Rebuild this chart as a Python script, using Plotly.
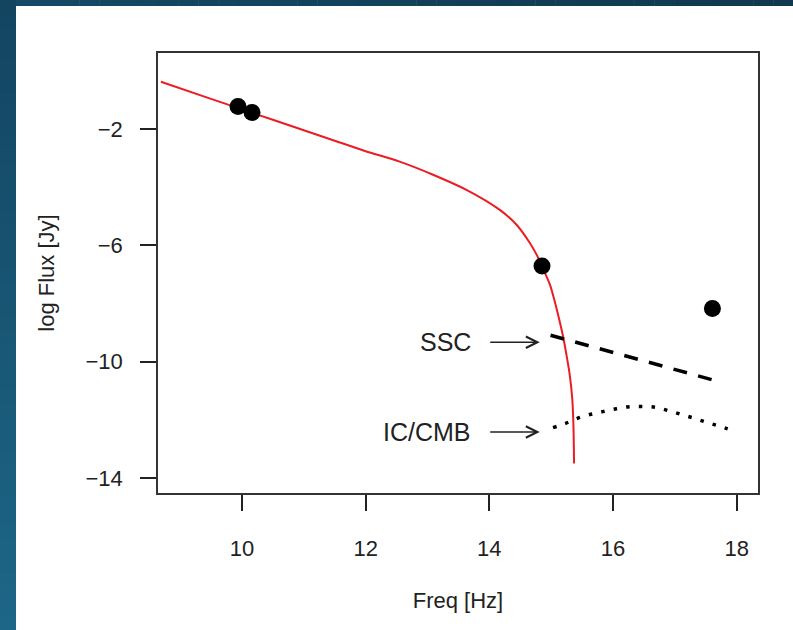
import plotly.graph_objects as go

# Observed fluxes (log Hz, log Jy)
obs_freq = [9.937, 10.163, 14.852, 17.607]
obs_flux = [-1.22, -1.43, -6.71, -8.17]

# Synchrotron model curve
sync_freq = [8.69, 9.5, 10.0, 10.5, 11.0, 11.5, 12.0, 12.55, 13.09, 13.63,
             14.17, 14.44, 14.65, 14.76, 14.85, 14.98, 15.06, 15.13, 15.19,
             15.25, 15.30, 15.34, 15.36, 15.37]
sync_flux = [-0.37, -0.96, -1.32, -1.68, -2.04, -2.40, -2.76, -3.12, -3.57, -4.09,
             -4.78, -5.29, -5.90, -6.30, -6.71, -7.35, -7.95, -8.55, -9.11,
             -9.80, -10.45, -11.25, -12.2, -13.5]

# Synchrotron self-Compton component
ssc_freq = [14.99, 17.67]
ssc_flux = [-9.09, -10.66]

# Inverse Compton on the CMB component
ic_freq = [15.03, 15.235, 15.434, 15.64, 15.85, 16.055, 16.26, 16.475, 16.685,
           16.89, 17.094, 17.30, 17.504, 17.709, 17.93]
ic_flux = [-12.27, -12.12, -11.94, -11.81, -11.71, -11.62, -11.55, -11.54, -11.57,
           -11.68, -11.81, -11.94, -12.08, -12.21, -12.37]

x_ticks = [10, 12, 14, 16, 18]
y_ticks = [-2, -6, -10, -14]
x_range = [8.643, 18.344]
y_range = [-14.517, 0.618]

# Component labels with their arrows: (label, tail x, head x, y)
components = [("SSC", 13.99, 14.815, -9.33), ("IC/CMB", 13.99, 14.815, -12.42)]

W, H = 793, 630
ML, MR, MT, MB = 158, 35, 53, 137
PW, PH = W - ML - MR, H - MT - MB
FONT = "Liberation Sans, Arial, Helvetica, sans-serif"
TEXT = "#222"


def px_x(p):
    return (p - ML) / PW


def px_y(p):
    return 1 - (p - MT) / PH


def mix(c1, c2, t):
    return "rgb(%d,%d,%d)" % tuple(round(a + (b - a) * t) for a, b in zip(c1, c2))


fig = go.Figure()

fig.add_trace(go.Scatter(x=sync_freq, y=sync_flux, mode="lines", line_shape="spline",
                         line=dict(color="#ec1c24", width=2, smoothing=0.8),
                         hoverinfo="skip"))
fig.add_trace(go.Scatter(x=ssc_freq, y=ssc_flux, mode="lines",
                         line=dict(color="black", width=3.5, dash="14px,11.5px"),
                         hoverinfo="skip"))
fig.add_trace(go.Scatter(x=ic_freq, y=ic_flux, mode="lines", line_shape="spline",
                         line=dict(color="black", width=3.5, dash="3.5px,9.2px"),
                         hoverinfo="skip"))
fig.add_trace(go.Scatter(x=obs_freq, y=obs_flux, mode="markers",
                         marker=dict(color="black", size=17, line=dict(width=0)),
                         hoverinfo="skip"))

# Slide frame: blue bands along the top and left edges
shapes = []
top_l, top_r = (20, 74, 102), (16, 56, 78)
n = 40
for i in range(n):
    x0 = W * i / n
    x1 = W * (i + 1) / n + 0.5
    shapes.append(dict(type="rect", xref="paper", yref="paper", layer="below",
                       x0=px_x(x0), x1=px_x(x1), y0=px_y(6), y1=px_y(0),
                       fillcolor=mix(top_l, top_r, i / (n - 1)), line_width=0))
side_t, side_b = (19, 69, 97), (29, 102, 135)
n = 42
for i in range(n):
    y0 = H * i / n
    y1 = H * (i + 1) / n + 0.5
    shapes.append(dict(type="rect", xref="paper", yref="paper", layer="below",
                       x0=px_x(0), x1=px_x(16), y0=px_y(y1), y1=px_y(y0),
                       fillcolor=mix(side_t, side_b, i / (n - 1)), line_width=0))

annotations = []
for label, tail, head, yv in components:
    annotations.append(dict(x=head, y=yv, ax=tail, ay=yv, xref="x", yref="y",
                            axref="x", ayref="y", text="", showarrow=True,
                            arrowhead=5, arrowsize=1.4, arrowwidth=1.6,
                            arrowcolor=TEXT))
    annotations.append(dict(x=tail - 0.26, y=yv, xref="x", yref="y", text=label,
                            showarrow=False, xanchor="right", yanchor="middle",
                            font=dict(family=FONT, size=25, color=TEXT)))

axis_common = dict(showgrid=False, zeroline=False, showline=True, mirror=True,
                   linecolor="#333", linewidth=1.6, ticks="outside", ticklen=16,
                   tickwidth=1.6, tickcolor=TEXT,
                   tickfont=dict(family=FONT, size=22, color=TEXT))

fig.update_layout(
    width=W, height=H,
    margin=dict(l=ML, r=MR, t=MT, b=MB),
    paper_bgcolor="white", plot_bgcolor="white",
    showlegend=False,
    shapes=shapes,
    annotations=annotations,
    xaxis=dict(range=x_range, tickvals=x_ticks, ticklabelstandoff=19,
               title=dict(text="Freq [Hz]", standoff=32,
                          font=dict(family=FONT, size=22, color=TEXT)),
               **axis_common),
    yaxis=dict(range=y_range, tickvals=y_ticks, ticklabelstandoff=13,
               title=dict(text="log Flux [Jy]", standoff=25,
                          font=dict(family=FONT, size=22, color=TEXT)),
               **axis_common),
)

fig.write_html("out.html")
